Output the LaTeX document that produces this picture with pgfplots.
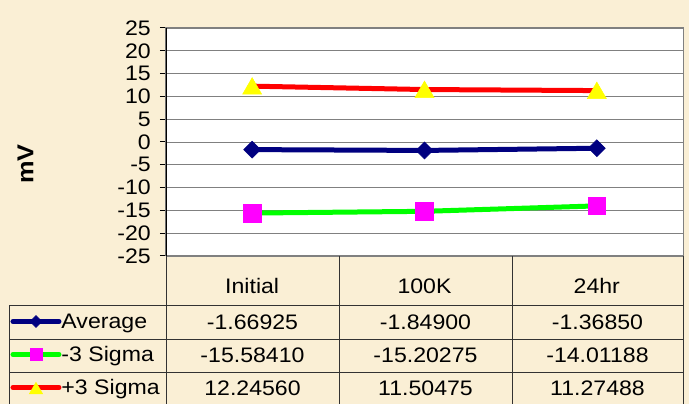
\documentclass[border=0pt]{standalone}
\usepackage{fontspec}
\setmainfont{Liberation Sans}
\newfontfamily\chartfont[FakeStretch=1.1]{Liberation Sans}
\usepackage{pgfplots}
\pgfplotsset{compat=1.18}

\definecolor{parchment}{RGB}{250,239,213}
\definecolor{navy}{RGB}{0,0,128}
\definecolor{lime}{RGB}{0,255,0}
\definecolor{brightred}{RGB}{255,0,0}
\definecolor{mag}{RGB}{255,0,255}
\definecolor{yel}{RGB}{255,255,0}
\definecolor{gridgray}{RGB}{128,128,128}
\definecolor{tableline}{RGB}{50,50,50}

\newcommand{\cf}{\chartfont\fontsize{21}{21}\selectfont}

\begin{document}
\begin{tikzpicture}[x=1pt,y=1pt]
  \fill[parchment] (0,0) rectangle (689,404);
  \useasboundingbox (0,0) rectangle (689,404);

  \begin{axis}[
    at={(166pt,148pt)}, anchor=south west,
    scale only axis, width=517pt, height=228pt,
    xmin=-0.5, xmax=2.5,
    ymin=-25, ymax=25,
    axis background/.style={fill=white},
    axis line style={gridgray, line width=1pt},
    xtick={0,1,2},
    xticklabels={Initial,100K,24hr},
    x tick style={draw=none},
    xticklabel style={anchor=base, yshift=-32pt},
    ytick={-25,-20,...,25},
    ytick pos=left,
    tick align=outside,
    major tick length=6pt,
    y tick style={black, line width=1pt},
    yticklabel style={inner sep=0pt, xshift=-9pt},
    ymajorgrids,
    grid style={gridgray, line width=0.8pt},
    ticklabel style={font=\cf},
    /pgf/number format/assume math mode=true,
    ylabel={\bfseries mV},
    ylabel style={at={(-0.2718,0.4035)}, anchor=center,
      font=\chartfont\fontsize{23}{23}\selectfont\bfseries},
    legend cell align=left,
    legend style={
      at={(-0.3008,-0.2149)}, anchor=north west,
      draw=none, fill=none, inner sep=0pt, outer sep=0pt,
      row sep=0pt,
      nodes={inner sep=0pt, text height=24pt, text depth=9pt, font=\cf},
    },
    legend image code/.code={
      \draw[mark repeat=2, mark phase=2, line cap=round,
            every mark/.append style={scale=0.7}, #1]
        plot coordinates {(0pt,0pt) (23pt,0pt) (46pt,0pt)};
    },
  ]
    \addplot[navy, line width=5pt, mark=square*,
      mark options={solid, rotate=45, fill=navy, draw=navy, line width=0.5pt},
      mark size=6pt]
      coordinates {(0,-1.66925) (1,-1.84900) (2,-1.36850)};
    \addlegendentry{Average}
    \addplot[lime, line width=5pt, mark=square*,
      mark options={solid, fill=mag, draw=mag, line width=0.5pt},
      mark size=8.8pt]
      coordinates {(0,-15.58410) (1,-15.20275) (2,-14.01188)};
    \addlegendentry{-3 Sigma}
    \addplot[brightred, line width=5pt, mark=triangle*,
      mark options={solid, fill=yel, draw=yel, line width=0.5pt, yshift=-2.5pt},
      mark size=11pt]
      coordinates {(0,12.24560) (1,11.50475) (2,11.27488)};
    \addlegendentry{+3 Sigma}
    \draw[black, line width=1.2pt] (rel axis cs:0,0) -- (rel axis cs:0,1);
  \end{axis}

  % data table under the plot
  \begin{scope}[tableline, line width=0.8pt]
    \draw (166,0) -- (166,148);
    \draw (339,0) -- (339,148);
    \draw (512,0) -- (512,148);
    \draw (683,0) -- (683,148);
    \draw (9,0) -- (9,99);
    \draw (9,99) -- (683,99);
    \draw (9,65) -- (683,65);
    \draw (9,32) -- (683,32);
  \end{scope}
  \begin{scope}[every node/.style={anchor=base, inner sep=0pt, font=\cf}]
    \node at (252.5,74) {-1.66925};
    \node at (425.5,74) {-1.84900};
    \node at (597.5,74) {-1.36850};
    \node at (252.5,41) {-15.58410};
    \node at (425.5,41) {-15.20275};
    \node at (597.5,41) {-14.01188};
    \node at (252.5,8) {12.24560};
    \node at (425.5,8) {11.50475};
    \node at (597.5,8) {11.27488};
  \end{scope}
\end{tikzpicture}
\end{document}
